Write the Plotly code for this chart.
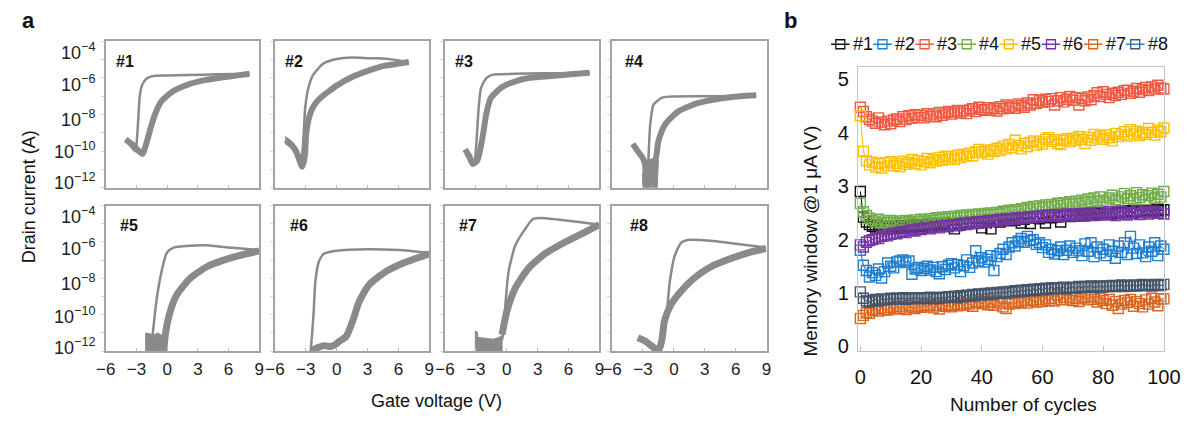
import plotly.graph_objects as go

W, H = 1197, 423

# ---------------- panel a: transfer curves (gate voltage in V, drain current as log10 A)
# forward sweep (lower, broad band of overlapping cycles)
D1_UP_V = [-4.05, -3.6, -3.25, -2.85, -2.4, -2.1, -1.7, -1.2, -0.6, 0.5, 2.1, 3.7, 5.3, 6.9, 8.05]
D1_UP_LOGI = [-9.35, -9.55, -9.7, -9.95, -10.15, -9.7, -8.9, -8.0, -7.3, -6.75, -6.35, -6.12, -5.98, -5.86, -5.77]
D2_UP_V = [-4.95, -4.5, -4.1, -3.7, -3.35, -3.1, -2.95, -2.65, -2.2, -1.6, -0.8, 0.0, 1.5, 3.1, 4.7, 6.0, 7.0]
D2_UP_LOGI = [-9.4, -9.6, -9.85, -10.3, -10.85, -10.3, -9.0, -8.1, -7.5, -7.1, -6.75, -6.42, -5.95, -5.6, -5.33, -5.22, -5.13]
D3_UP_V = [-4.03, -3.6, -3.3, -2.85, -2.35, -2.0, -1.55, -0.45, 1.15, 2.5, 4.3, 6.2, 8.05]
D3_UP_LOGI = [-9.9, -10.35, -10.7, -10.5, -9.25, -8.0, -7.1, -6.5, -6.13, -5.98, -5.9, -5.8, -5.72]
D4_UP_V = [-4.0, -3.5, -3.0, -2.75, -2.3, -1.8, -1.5, -0.86, 0.41, 2.3, 4.5, 6.5, 8.0]
D4_UP_LOGI = [-9.6, -10.0, -10.4, -10.7, -10.6, -10.45, -9.45, -8.55, -7.83, -7.38, -7.12, -7.0, -6.95]
D5_UP_V = [-0.33, -0.18, 0.3, 0.93, 2.2, 3.78, 5.36, 6.94, 9.0]
D5_UP_LOGI = [-12.0, -11.08, -9.82, -8.92, -8.02, -7.39, -7.03, -6.76, -6.49]
D6_UP_V = [-2.4, -1.8, -1.2, -0.6, -0.03, 0.29, 0.92, 1.55, 2.18, 3.12, 4.69, 6.26, 9.0]
D6_UP_LOGI = [-11.95, -11.8, -11.7, -11.75, -11.6, -11.44, -11.2, -10.36, -9.28, -8.38, -7.66, -7.21, -6.65]
D7_UP_V = [-0.46, 0.01, 0.81, 2.07, 3.66, 5.87, 7.46, 9.0]
D7_UP_LOGI = [-11.1, -9.82, -8.56, -7.48, -6.67, -5.95, -5.5, -5.05]
D8_UP_V = [-3.5, -2.8, -2.2, -1.51, -1.18, -0.92, -0.3, 0.65, 1.91, 3.5, 5.4, 7.2, 8.95]
D8_UP_LOGI = [-11.26, -11.45, -11.7, -11.98, -11.44, -10.36, -9.46, -8.74, -8.02, -7.39, -6.94, -6.6, -6.36]

# reverse sweep (upper, narrow trace)
D1_DN_V = [8.05, 5.0, 2.0, 0.0, -1.4, -2.0, -2.45, -2.68, -2.82, -2.95, -3.1, -3.6, -4.05]
D1_DN_LOGI = [-5.77, -5.8, -5.84, -5.87, -5.9, -6.03, -6.38, -7.0, -8.2, -9.3, -10.0, -9.7, -9.35]
D2_DN_V = [7.0, 5.5, 4.0, 3.1, 1.5, 0.0, -1.3, -2.3, -2.75, -3.05, -3.22, -3.35, -3.55, -4.2, -4.95]
D2_DN_LOGI = [-5.13, -5.0, -4.93, -4.92, -4.88, -4.97, -5.22, -5.85, -6.55, -7.6, -9.2, -10.2, -10.8, -9.9, -9.45]
D3_DN_V = [8.05, 5.0, 2.0, -0.5, -1.4, -2.0, -2.5, -2.72, -2.85, -2.98, -3.15, -3.5, -4.03]
D3_DN_LOGI = [-5.72, -5.74, -5.76, -5.8, -5.83, -6.02, -6.55, -7.6, -8.7, -9.8, -10.7, -10.2, -9.9]
D4_DN_V = [8.0, 4.0, 0.0, -0.55, -1.15, -1.97, -2.3, -2.45, -2.6]
D4_DN_LOGI = [-6.98, -7.0, -7.01, -7.02, -7.08, -7.45, -8.55, -10.15, -12.2]
D5_DN_V = [9.0, 7.0, 5.0, 3.78, 1.88, 0.62, -0.02, -0.49, -0.97, -1.28, -1.44, -1.5]
D5_DN_LOGI = [-6.45, -6.35, -6.25, -6.18, -6.22, -6.31, -6.58, -7.48, -8.92, -10.36, -11.26, -12.2]
D6_DN_V = [9.0, 6.0, 3.12, -0.03, -1.28, -1.75, -2.07, -2.23, -2.39, -2.55]
D6_DN_LOGI = [-6.6, -6.45, -6.4, -6.49, -6.67, -7.12, -8.2, -9.82, -11.08, -12.2]
D7_DN_V = [9.0, 7.0, 4.92, 3.34, 2.55, 1.76, 0.81, 0.17, -0.08, -0.3, -0.45]
D7_DN_LOGI = [-5.05, -4.9, -4.77, -4.68, -4.74, -5.31, -6.22, -7.66, -9.1, -10.72, -11.4]
D8_DN_V = [8.95, 6.0, 3.88, 1.34, 0.71, 0.08, -0.4, -0.71, -1.03, -1.15, -1.5]
D8_DN_LOGI = [-6.31, -6.1, -5.95, -5.89, -6.04, -6.76, -8.2, -10.0, -11.08, -11.8, -11.98]

# off-state noise floor regions (outline of the noisy band)
D2_NOISE_V = [-5.0, -4.6, -4.2, -3.8, -3.5, -3.5, -3.8, -4.2, -4.6, -5.0]
D2_NOISE_LOGI = [-9.2, -9.35, -9.55, -9.9, -10.3, -10.7, -10.2, -9.95, -9.75, -9.6]
D4_NOISE_V = [-3.1, -2.6, -2.2, -1.8, -1.5, -1.55, -1.65, -1.95, -2.05, -2.15, -2.5, -2.6, -2.75, -3.0, -3.05]
D4_NOISE_LOGI = [-10.5, -10.75, -10.6, -10.4, -10.5, -11.3, -12.3, -12.3, -11.5, -12.3, -12.3, -11.6, -12.3, -12.3, -11.2]
D5_NOISE_V = [-2.1, -2.1, -1.7, -1.3, -0.9, -0.5, -0.3, -0.3]
D5_NOISE_LOGI = [-12.3, -11.0, -11.05, -11.1, -11.0, -11.15, -11.5, -12.3]
D7_NOISE_V = [-3.05, -3.05, -2.85, -2.8, -2.0, -1.3, -0.8, -0.45, -0.45]
D7_NOISE_LOGI = [-12.3, -10.9, -10.95, -11.25, -11.3, -11.35, -11.25, -11.15, -12.3]

DEVICE_LABELS = ["#1", "#2", "#3", "#4", "#5", "#6", "#7", "#8"]
UP_V = [D1_UP_V, D2_UP_V, D3_UP_V, D4_UP_V, D5_UP_V, D6_UP_V, D7_UP_V, D8_UP_V]
UP_LOGI = [D1_UP_LOGI, D2_UP_LOGI, D3_UP_LOGI, D4_UP_LOGI, D5_UP_LOGI, D6_UP_LOGI, D7_UP_LOGI, D8_UP_LOGI]
DN_V = [D1_DN_V, D2_DN_V, D3_DN_V, D4_DN_V, D5_DN_V, D6_DN_V, D7_DN_V, D8_DN_V]
DN_LOGI = [D1_DN_LOGI, D2_DN_LOGI, D3_DN_LOGI, D4_DN_LOGI, D5_DN_LOGI, D6_DN_LOGI, D7_DN_LOGI, D8_DN_LOGI]
NOISE = {1: (D2_NOISE_V, D2_NOISE_LOGI), 3: (D4_NOISE_V, D4_NOISE_LOGI),
         4: (D5_NOISE_V, D5_NOISE_LOGI), 6: (D7_NOISE_V, D7_NOISE_LOGI)}

VG_TICKS = [-6, -3, 0, 3, 6, 9]
ID_EXPONENTS = [-12, -11, -10, -9, -8, -7, -6, -5, -4]
ID_LABEL_EXPONENTS = [-4, -6, -8, -10, -12]

# ---------------- panel b: memory window @1 uA (V) over 100 cycles
CYCLES = list(range(101))
MW1 = [2.90, 2.42, 2.33, 2.28, 2.25, 2.22, 2.27, 2.20, 2.24, 2.21,
       2.25, 2.20, 2.23, 2.26, 2.21, 2.24, 2.27, 2.22, 2.25, 2.28,
       2.24, 2.26, 2.29, 2.23, 2.27, 2.30, 2.25, 2.28, 2.31, 2.26,
       2.29, 2.20, 2.30, 2.27, 2.32, 2.29, 2.33, 2.30, 2.34, 2.31,
       2.22, 2.33, 2.36, 2.20, 2.34, 2.37, 2.33, 2.36, 2.38, 2.35,
       2.39, 2.36, 2.40, 2.31, 2.38, 2.41, 2.30, 2.40, 2.43, 2.39,
       2.42, 2.31, 2.44, 2.41, 2.45, 2.42, 2.33, 2.44, 2.46, 2.43,
       2.47, 2.44, 2.48, 2.45, 2.49, 2.46, 2.48, 2.50, 2.47, 2.49,
       2.51, 2.48, 2.50, 2.52, 2.49, 2.51, 2.53, 2.50, 2.52, 2.54,
       2.51, 2.53, 2.55, 2.52, 2.54, 2.56, 2.53, 2.55, 2.57, 2.54,
       2.56]
MW2 = [1.80, 1.52, 1.42, 1.30, 1.38, 1.33, 1.45, 1.28, 1.40, 1.56,
       1.50, 1.47, 1.58, 1.60, 1.62, 1.57, 1.60, 1.35, 1.45, 1.48,
       1.42, 1.46, 1.50, 1.43, 1.48, 1.40, 1.36, 1.49, 1.44, 1.52,
       1.55, 1.47, 1.53, 1.40, 1.51, 1.62, 1.48, 1.56, 1.79, 1.60,
       1.66, 1.58, 1.63, 1.70, 1.42, 1.68, 1.74, 1.82, 1.72, 1.86,
       1.94, 1.88, 1.97, 2.02, 1.95, 2.06, 1.98, 2.00, 1.91, 1.94,
       1.85, 1.90, 1.76, 1.82, 1.73, 1.79, 1.86, 1.72, 1.80, 1.88,
       1.76, 1.84, 1.79, 1.70, 1.92, 1.78, 1.94, 1.68, 1.86, 1.75,
       1.82, 1.70, 1.90, 1.78, 1.65, 1.88, 1.76, 1.94, 1.72, 2.06,
       1.84, 1.74, 1.90, 1.75, 1.68, 1.86, 1.78, 1.94, 1.70, 1.88,
       1.82]
MW3 = [4.48, 4.40, 4.30, 4.25, 4.22, 4.18, 4.28, 4.20, 4.15, 4.22,
       4.17, 4.24, 4.26, 4.21, 4.30, 4.25, 4.32, 4.27, 4.34, 4.29,
       4.33, 4.28, 4.36, 4.31, 4.35, 4.30, 4.38, 4.33, 4.37, 4.40,
       4.35, 4.39, 4.42, 4.37, 4.41, 4.36, 4.43, 4.45, 4.40, 4.48,
       4.44, 4.42, 4.47, 4.43, 4.46, 4.41, 4.49, 4.45, 4.52, 4.47,
       4.50, 4.46, 4.54, 4.51, 4.48, 4.56, 4.52, 4.62, 4.55, 4.60,
       4.57, 4.63, 4.59, 4.64, 4.52, 4.60, 4.66, 4.58, 4.63, 4.68,
       4.61, 4.66, 4.52, 4.64, 4.60, 4.67, 4.62, 4.70, 4.75, 4.68,
       4.77, 4.72, 4.66, 4.74, 4.70, 4.76, 4.72, 4.79, 4.80, 4.74,
       4.78, 4.83, 4.76, 4.81, 4.85, 4.79, 4.86, 4.82, 4.89, 4.84,
       4.82]
MW4 = [2.68, 2.52, 2.45, 2.40, 2.36, 2.33, 2.38, 2.31, 2.35, 2.32,
       2.36, 2.33, 2.30, 2.35, 2.32, 2.36, 2.34, 2.31, 2.37, 2.34,
       2.38, 2.35, 2.33, 2.39, 2.36, 2.41, 2.38, 2.42, 2.39, 2.43,
       2.40, 2.44, 2.41, 2.45, 2.42, 2.46, 2.43, 2.47, 2.44, 2.48,
       2.45, 2.49, 2.46, 2.50, 2.47, 2.51, 2.48, 2.53, 2.50, 2.55,
       2.52, 2.56, 2.53, 2.58, 2.55, 2.60, 2.57, 2.62, 2.58, 2.63,
       2.60, 2.65, 2.61, 2.66, 2.63, 2.68, 2.64, 2.69, 2.66, 2.71,
       2.67, 2.72, 2.68, 2.74, 2.70, 2.76, 2.71, 2.78, 2.73, 2.80,
       2.74, 2.70, 2.78, 2.83, 2.75, 2.72, 2.80, 2.86, 2.77, 2.82,
       2.76, 2.88, 2.79, 2.84, 2.75, 2.82, 2.87, 2.78, 2.85, 2.80,
       2.90]
MW5 = [4.32, 3.65, 3.48, 3.40, 3.45, 3.36, 3.42, 3.34, 3.44, 3.38,
       3.46, 3.39, 3.43, 3.37, 3.47, 3.41, 3.45, 3.50, 3.42, 3.48,
       3.40, 3.46, 3.52, 3.44, 3.50, 3.47, 3.54, 3.49, 3.56, 3.51,
       3.55, 3.50, 3.58, 3.53, 3.60, 3.56, 3.62, 3.57, 3.64, 3.69,
       3.63, 3.66, 3.60, 3.68, 3.65, 3.71, 3.67, 3.75, 3.70, 3.78,
       3.72, 3.86, 3.76, 3.70, 3.80, 3.74, 3.82, 3.85, 3.77, 3.83,
       3.79, 3.88, 3.91, 3.84, 3.87, 3.80, 3.78, 3.86, 3.89, 3.83,
       3.90, 3.86, 3.93, 3.88, 3.80, 3.92, 3.86, 3.97, 3.90, 3.94,
       3.88, 3.96, 3.91, 3.85, 3.99, 3.93, 3.97, 4.02, 3.94, 4.06,
       3.98, 4.03, 3.95, 4.00, 3.97, 4.08, 4.01, 3.96, 4.05, 4.02,
       4.09]
MW6 = [1.90, 1.86, 1.95, 1.98, 2.00, 2.03, 2.02, 2.06, 2.08, 2.07,
       2.10, 2.12, 2.11, 2.14, 2.15, 2.13, 2.17, 2.18, 2.16, 2.20,
       2.19, 2.21, 2.22, 2.20, 2.23, 2.24, 2.22, 2.25, 2.26, 2.24,
       2.27, 2.28, 2.26, 2.29, 2.30, 2.28, 2.31, 2.32, 2.30, 2.33,
       2.34, 2.32, 2.35, 2.36, 2.34, 2.37, 2.38, 2.36, 2.39, 2.37,
       2.40, 2.38, 2.41, 2.39, 2.42, 2.40, 2.43, 2.41, 2.44, 2.42,
       2.45, 2.43, 2.46, 2.44, 2.47, 2.45, 2.43, 2.46, 2.48, 2.44,
       2.47, 2.45, 2.49, 2.46, 2.44, 2.48, 2.50, 2.45, 2.47, 2.51,
       2.46, 2.49, 2.52, 2.47, 2.45, 2.50, 2.53, 2.48, 2.46, 2.51,
       2.49, 2.54, 2.47, 2.50, 2.52, 2.48, 2.51, 2.53, 2.49, 2.50,
       2.48]
MW7 = [0.52, 0.58, 0.63, 0.62, 0.67, 0.70, 0.66, 0.72, 0.69, 0.68,
       0.73, 0.70, 0.75, 0.71, 0.74, 0.69, 0.76, 0.72, 0.71, 0.75,
       0.73, 0.77, 0.74, 0.78, 0.72, 0.76, 0.70, 0.79, 0.75, 0.77,
       0.74, 0.78, 0.76, 0.80, 0.77, 0.81, 0.79, 0.75, 0.82, 0.83,
       0.80, 0.84, 0.78, 0.82, 0.77, 0.85, 0.81, 0.74, 0.71, 0.79,
       0.83, 0.80, 0.84, 0.82, 0.86, 0.81, 0.87, 0.85, 0.83, 0.88,
       0.84, 0.89, 0.86, 0.90, 0.85, 0.96, 0.88, 0.92, 0.87, 0.91,
       0.86, 0.90, 0.84, 0.89, 0.92, 0.87, 0.93, 0.88, 0.83, 0.90,
       0.86, 0.80, 0.88, 0.77, 0.84, 0.71, 0.79, 0.86, 0.82, 0.88,
       0.75, 0.84, 0.80, 0.74, 0.87, 0.79, 0.90, 0.83, 0.76, 0.89,
       0.89]
MW8 = [1.02, 0.90, 0.85, 0.83, 0.86, 0.88, 0.85, 0.89, 0.87, 0.88,
       0.90, 0.88, 0.90, 0.89, 0.91, 0.88, 0.90, 0.89, 0.91, 0.90,
       0.89, 0.91, 0.90, 0.92, 0.89, 0.91, 0.90, 0.92, 0.91, 0.93,
       0.92, 0.94, 0.91, 0.95, 0.93, 0.96, 0.94, 0.97, 0.95, 0.98,
       0.96, 0.99, 0.97, 1.00, 0.98, 1.01, 0.99, 1.02, 1.00, 1.03,
       1.01, 1.04, 1.02, 1.05, 1.03, 1.06, 1.04, 1.07, 1.05, 1.08,
       1.06, 1.09, 1.07, 1.10, 1.08, 1.10, 1.09, 1.11, 1.08, 1.10,
       1.11, 1.09, 1.12, 1.10, 1.12, 1.11, 1.13, 1.10, 1.12, 1.13,
       1.11, 1.13, 1.12, 1.14, 1.12, 1.13, 1.15, 1.12, 1.14, 1.13,
       1.15, 1.13, 1.14, 1.16, 1.14, 1.15, 1.13, 1.16, 1.15, 1.14,
       1.16]
MW_SERIES = [MW1, MW2, MW3, MW4, MW5, MW6, MW7, MW8]
SERIES_NAMES = ["#1", "#2", "#3", "#4", "#5", "#6", "#7", "#8"]
SERIES_COLORS = ["#111111", "#1f7fd0", "#f05a42", "#72ad4a", "#ffc000", "#7434a4", "#d9651f", "#44546a"]
LEGEND_LINE_COLORS = ["#111111", "#1f7fd0", "#f05a42", "#72ad4a", "#ffc000", "#7434a4", "#d9651f", "#2e86de"]
CYCLE_TICKS = [0, 20, 40, 60, 80, 100]
MW_TICKS = [0, 1, 2, 3, 4, 5]

FONT = "Liberation Sans, Arial, sans-serif"
GREY = "#8a8a8a"
FRAME = "#a3a3a3"


def px_x(p):
    return p / W


def px_y(p):
    return 1 - p / H


def amps(logi):
    return [10 ** v for v in logi]


def ax_names(n):
    return ("x" if n == 1 else f"x{n}", "y" if n == 1 else f"y{n}",
            "xaxis" if n == 1 else f"xaxis{n}", "yaxis" if n == 1 else f"yaxis{n}")


def label(text, x, y, size, angle=0, xanchor="center", xref="paper", yref="paper", color="#111"):
    return dict(text=text, x=x, y=y, xref=xref, yref=yref, textangle=angle,
                xanchor=xanchor, yanchor="middle", showarrow=False,
                font=dict(size=size, color=color, family=FONT))


fig = go.Figure()
layout_axes = {}
annotations = []

COLS = [(98, 255), (271, 429), (445, 603), (616, 774)]
ROWS = [(42, 191), (209, 357)]
LABEL_DX = [8, 8, 8, 11, 13, 13, 12, 16]
# decade labels of the current axis sit slightly inside the frame height
ID_LABEL_OFFSETS = [10, 42.5, 78, 111.5, 143]

for i in range(8):
    r, c = divmod(i, 4)
    n = i + 1
    xr, yr, xk, yk = ax_names(n)
    w_up = 6 if r == 0 else 7
    if i in NOISE:
        nv, nl = NOISE[i]
        fig.add_trace(go.Scatter(x=nv, y=amps(nl), mode="lines", fill="toself",
                                 fillcolor=GREY, line=dict(color=GREY, width=1),
                                 xaxis=xr, yaxis=yr, hoverinfo="skip"))
    fig.add_trace(go.Scatter(x=UP_V[i], y=amps(UP_LOGI[i]), mode="lines",
                             line=dict(color=GREY, width=w_up, shape="spline", smoothing=0.6),
                             xaxis=xr, yaxis=yr, hoverinfo="skip"))
    fig.add_trace(go.Scatter(x=DN_V[i], y=amps(DN_LOGI[i]), mode="lines",
                             line=dict(color=GREY, width=2.5, shape="spline", smoothing=0.6),
                             xaxis=xr, yaxis=yr, hoverinfo="skip"))

    x0, x1 = COLS[c]
    y0, y1 = ROWS[r]
    layout_axes[xk] = dict(
        domain=[px_x(x0), px_x(x1)], anchor=yr, range=[-6, 9],
        tickvals=VG_TICKS, showticklabels=(r == 1),
        ticks="inside", ticklen=3, tickcolor="#bdbdbd",
        tickfont=dict(size=17, color="#222", family=FONT), ticklabelstandoff=2,
        showline=True, mirror=True, linecolor=FRAME, linewidth=1.5,
        showgrid=False, zeroline=False,
    )
    layout_axes[yk] = dict(
        domain=[px_y(y1), px_y(y0)], anchor=xr, type="log", range=[-12, -4],
        tickvals=[10 ** e for e in ID_EXPONENTS], showticklabels=False,
        ticks="outside", ticklen=3, tickcolor="#d6d6d6",
        showline=True, mirror=True, linecolor=FRAME, linewidth=1.5,
        showgrid=False, zeroline=False,
    )
    if c == 0:
        for e, off in zip(ID_LABEL_EXPONENTS, ID_LABEL_OFFSETS):
            annotations.append(label(f"10<sup>\u2212{-e}</sup>", px_x(89), px_y(y0 + off),
                                     18, xanchor="right", color="#222"))
    annotations.append(label(f"<b>{DEVICE_LABELS[i]}</b>", px_x(x0 + LABEL_DX[i]),
                             px_y(y0 + 20.5), 16, xanchor="left"))

# panel b traces
for k, (vals, name) in enumerate(zip(MW_SERIES, SERIES_NAMES)):
    fig.add_trace(go.Scatter(
        x=CYCLES, y=vals, mode="lines+markers", name=name,
        line=dict(color=SERIES_COLORS[k], width=1.1),
        marker=dict(symbol="square-open", size=10, color=SERIES_COLORS[k],
                    line=dict(width=1.4, color=SERIES_COLORS[k])),
        cliponaxis=False, xaxis="x9", yaxis="y9", hoverinfo="skip"))

layout_axes["xaxis9"] = dict(
    domain=[px_x(867.5), px_x(1180.5)], anchor="y9", range=[-0.8, 100],
    tickvals=CYCLE_TICKS, ticks="inside", ticklen=5, tickcolor="#bfbfbf",
    tickfont=dict(size=20, color="#111", family=FONT), ticklabelstandoff=8,
    showline=True, mirror=True, linecolor="#c4c4c4", linewidth=1,
    showgrid=False, zeroline=False,
)
layout_axes["yaxis9"] = dict(
    domain=[px_y(356.5), px_y(68.3)], anchor="x9", range=[-0.08, 5.23],
    tickvals=MW_TICKS, ticks="", tickfont=dict(size=20, color="#111", family=FONT),
    ticklabelstandoff=4,
    showline=True, mirror=True, linecolor="#c4c4c4", linewidth=1,
    showgrid=False, zeroline=False,
)

# legend row for panel b, drawn on its own small axis
for k, name in enumerate(SERIES_NAMES):
    fig.add_trace(go.Scatter(
        x=[k, k + 0.44], y=[0.5, 0.5], mode="lines",
        line=dict(color=LEGEND_LINE_COLORS[k], width=1.3),
        xaxis="x10", yaxis="y10", hoverinfo="skip"))
    fig.add_trace(go.Scatter(
        x=[k + 0.22], y=[0.5], mode="markers",
        marker=dict(symbol="square-open", size=9, color=SERIES_COLORS[k],
                    line=dict(width=1.3, color=SERIES_COLORS[k])),
        xaxis="x10", yaxis="y10", hoverinfo="skip"))
    annotations.append(label(name, k + 0.47, 0.5, 18, xanchor="left", xref="x10", yref="y10"))

layout_axes["xaxis10"] = dict(domain=[px_x(840), px_x(1184.8)], anchor="y10",
                              range=[0, 8], visible=False)
layout_axes["yaxis10"] = dict(domain=[px_y(54), px_y(36)], anchor="x10",
                              range=[0, 1], visible=False)

# panel letters and axis titles
annotations += [
    label("<b>a</b>", px_x(19), px_y(21), 22),
    label("<b>b</b>", px_x(799), px_y(21), 22),
    label("Drain current (A)", px_x(19), px_y(200), 18, angle=-90),
    label("Gate voltage (V)", px_x(436), px_y(408), 18),
    label("Memory window @1 \u03bcA (V)", px_x(819), px_y(245), 19, angle=-90),
    label("Number of cycles", px_x(1037), px_y(411), 19),
]

fig.update_layout(
    width=W, height=H, margin=dict(l=0, r=0, t=0, b=0),
    paper_bgcolor="white", plot_bgcolor="white", showlegend=False,
    font=dict(family=FONT), annotations=annotations, **layout_axes,
)

fig.write_html("out.html")
